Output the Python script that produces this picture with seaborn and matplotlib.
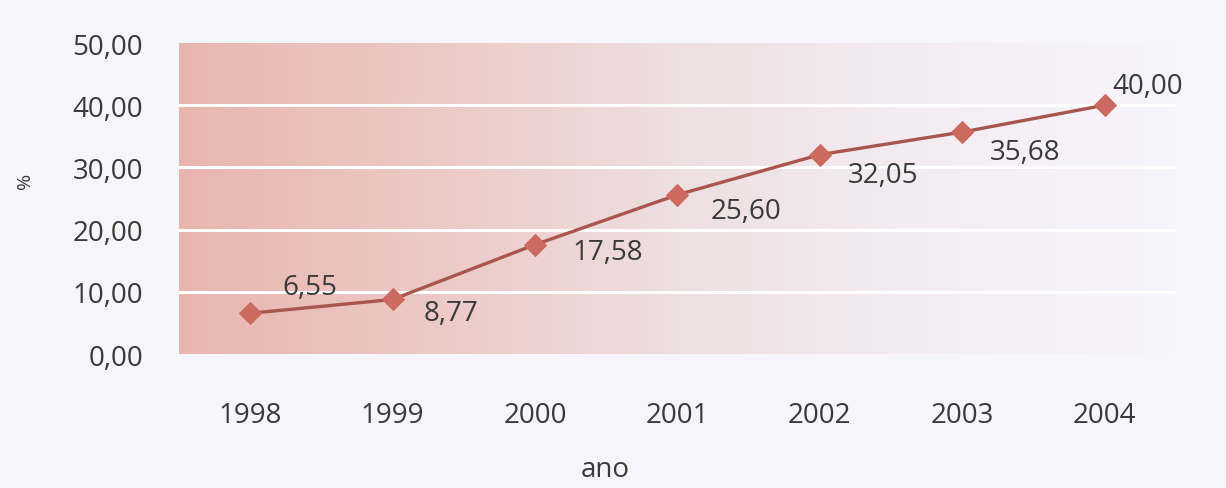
import numpy as np
import pandas as pd
import matplotlib
matplotlib.use("Agg")
import matplotlib.pyplot as plt
from matplotlib.colors import LinearSegmentedColormap
import seaborn as sns

# Data
anos = ["1998", "1999", "2000", "2001", "2002", "2003", "2004"]
valores = [6.55, 8.77, 17.58, 25.60, 32.05, 35.68, 40.00]
rotulos = ["6,55", "8,77", "17,58", "25,60", "32,05", "35,68", "40,00"]
yticks = [0, 10, 20, 30, 40, 50]
ytick_labels = ["0,00", "10,00", "20,00", "30,00", "40,00", "50,00"]

df = pd.DataFrame({"ano": anos, "pct": valores})

sns.set_theme(style="white")
plt.rcParams["font.family"] = ["Open Sans", "DejaVu Sans"]

fig_bg = "#f6f5fb"
text_color = "#3a3a3a"
fig = plt.figure(figsize=(12.26, 4.89), dpi=100, facecolor=fig_bg)
ax = fig.add_axes([0.146, 0.274, 0.813, 0.636])
ax.set_facecolor(fig_bg)

# Horizontal pink-to-white gradient behind the plot
grad = LinearSegmentedColormap.from_list(
    "fundo", ["#e9b6af", "#ecc9c5", "#eedfe1", "#f3edf3", "#f6f5fb"])
ax.imshow(np.linspace(0, 1, 256).reshape(1, -1), aspect="auto", cmap=grad,
          extent=[-0.5, 6.5, 0, 50], zorder=0, interpolation="bilinear")

for y in yticks[1:-1]:
    ax.axhline(y, color="white", lw=2.2, zorder=1)

sns.lineplot(data=df, x="ano", y="pct", ax=ax, color="#a9564e", lw=2.4,
             marker="D", markersize=11.5, markerfacecolor="#cc6a60",
             markeredgecolor="#cc6a60", zorder=3, sort=False)

# Value labels placed around each point (offsets in points)
offsets = [(23, 19), (22, -10), (27, -5), (24, -12), (20, -15), (20, -14), (6, 14)]
for i, (v, lab, (dx, dy)) in enumerate(zip(valores, rotulos, offsets)):
    ax.annotate(lab, (i, v), xytext=(dx, dy), textcoords="offset points",
                fontsize=20, color=text_color, ha="left", va="center", zorder=4)

ax.set_xlim(-0.5, 6.5)
ax.set_ylim(0, 50)
ax.set_yticks(yticks)
ax.set_yticklabels(ytick_labels)
ax.tick_params(axis="both", labelsize=20, colors=text_color, length=0)
ax.tick_params(axis="x", pad=34)
ax.tick_params(axis="y", pad=26)
for s in ax.spines.values():
    s.set_visible(False)

ax.set_xlabel("ano", fontsize=20, color=text_color)
ax.xaxis.set_label_coords(0.428, -0.325)
ax.set_ylabel("%", fontsize=14, color=text_color)
ax.yaxis.set_label_coords(-0.145, 0.56)

fig.savefig("out.png", dpi=100, facecolor=fig_bg)
